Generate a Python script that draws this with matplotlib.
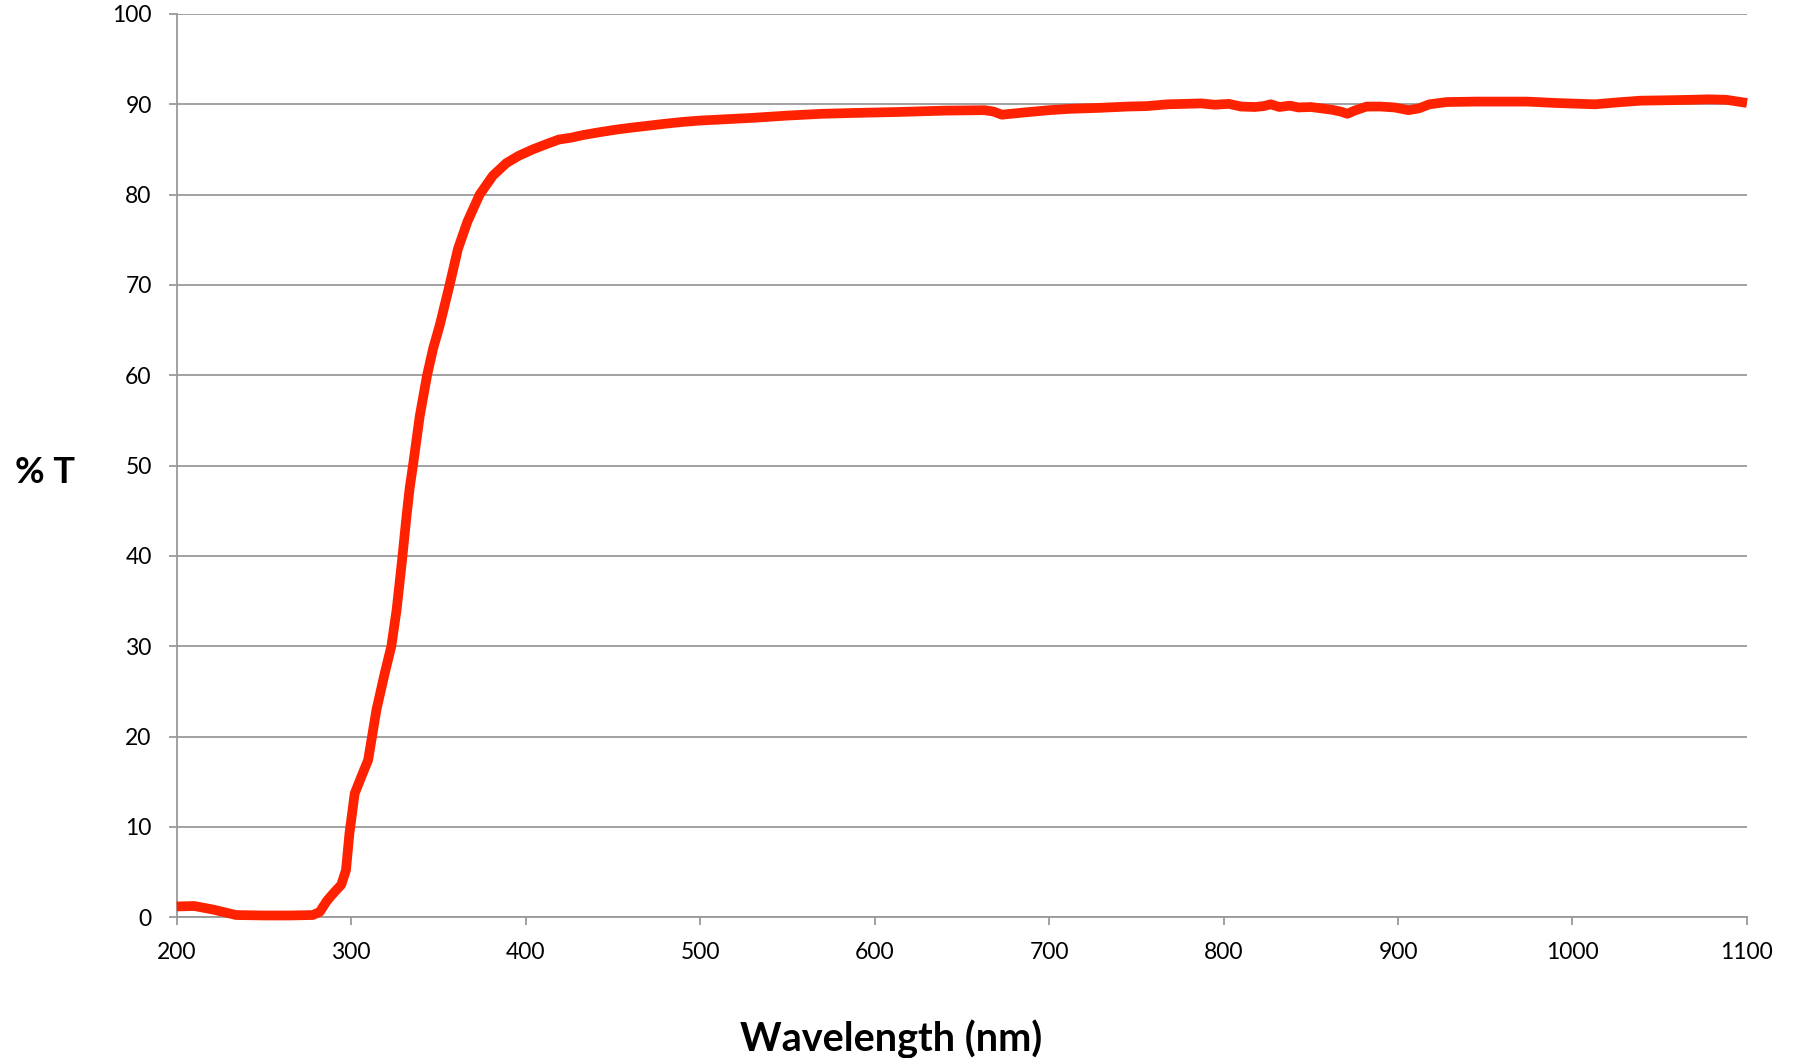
import numpy as np
import matplotlib
matplotlib.use("Agg")
import matplotlib.pyplot as plt

plt.rcParams['font.family'] = ['Lato', 'DejaVu Sans']

# transmission spectrum
wavelength = [200, 210, 221, 234, 250, 265, 278, 282, 286, 290, 294.3, 297, 299, 302,
              305.9, 309.7, 314.5, 319.2, 323, 326, 328, 329.4, 331.7, 333.5, 335.4,
              339.3, 343.5, 347, 350.7, 356.4, 361.2, 366.6, 373.6, 381.2, 389, 396,
              404, 412, 419, 426, 433, 442, 452, 460, 469, 480, 490, 500,
              515, 530, 550, 570, 590, 614, 640, 663, 668, 673, 678, 686, 700, 712,
              728, 745, 756, 768, 778, 787, 795, 803, 810, 818, 823, 827, 832, 838,
              843, 850, 856, 862, 867, 871, 875, 882, 890, 898, 906, 912, 918, 928,
              945, 960, 974, 990, 1005, 1013, 1025, 1039, 1055, 1068, 1078, 1088, 1100]
transmission = [1.2, 1.25, 0.85, 0.25, 0.2, 0.2, 0.25, 0.6, 1.8, 2.7, 3.6, 5.2, 9.3, 13.7,
                15.6, 17.4, 23, 27, 30, 34, 37.5, 40, 44.4, 47.5, 50,
                55.5, 60, 63, 65.5, 70, 74, 77, 80, 82.1, 83.5, 84.3,
                85, 85.6, 86.1, 86.3, 86.6, 86.9, 87.2, 87.4, 87.6, 87.85, 88.05, 88.2,
                88.35, 88.5, 88.75, 88.95, 89.05, 89.15, 89.3, 89.35, 89.2, 88.85, 88.95, 89.1, 89.35, 89.5,
                89.6, 89.75, 89.8, 90.0, 90.05, 90.1, 89.95, 90.05, 89.75, 89.7, 89.8, 90.0, 89.7, 89.85,
                89.65, 89.7, 89.55, 89.4, 89.2, 88.95, 89.3, 89.75, 89.75, 89.65, 89.35, 89.55, 90.0, 90.25,
                90.3, 90.3, 90.3, 90.15, 90.05, 90.0, 90.2, 90.4, 90.45, 90.5, 90.55, 90.5, 90.15]

x_ticks = np.arange(200, 1101, 100)
y_ticks = np.arange(0, 101, 10)

fig = plt.figure(figsize=(17.96, 10.58), dpi=100)
ax = fig.add_axes([0.0984, 0.133, 0.8743, 0.8538])

grid_col = '#9a9a9a'
ax.plot(wavelength, transmission, color='#ff2200', lw=7,
        solid_joinstyle='round', solid_capstyle='butt', clip_on=False, zorder=3)

ax.set_xlim(200, 1100)
ax.set_ylim(0, 100)
ax.set_xticks(x_ticks)
ax.set_yticks(y_ticks)
ax.yaxis.grid(True, color=grid_col, lw=1.3)
ax.set_axisbelow(True)

for s in ['top', 'right']:
    ax.spines[s].set_visible(False)
for s in ['left', 'bottom']:
    ax.spines[s].set_color(grid_col)
    ax.spines[s].set_linewidth(1.3)

ax.tick_params(axis='both', color=grid_col, width=1.3, length=6, labelsize=16.5)
ax.tick_params(axis='y', pad=12)
ax.tick_params(axis='x', pad=12)

ax.set_xlabel('Wavelength (nm)', fontsize=28.5, fontweight='bold')
ax.xaxis.set_label_coords(0.455, -0.135)
ax.xaxis.label.set_va('center')
ax.set_ylabel('% T', fontsize=26, fontweight='bold', rotation=0)
ax.yaxis.set_label_coords(-0.0839, 0.492)
ax.yaxis.label.set_va('center')
ax.yaxis.label.set_ha('center')

fig.savefig('out.png', dpi=100)
